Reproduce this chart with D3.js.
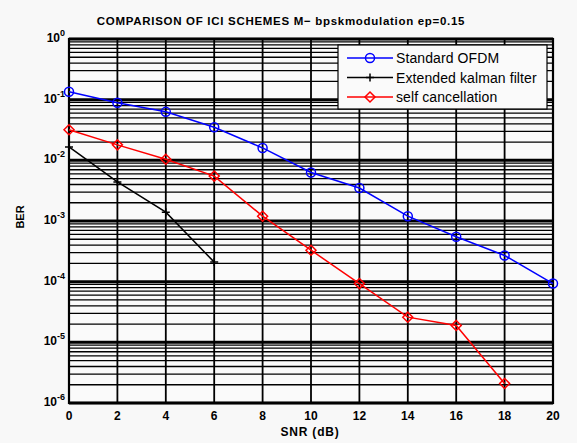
<!DOCTYPE html>
<html>
<head>
<meta charset="utf-8">
<script src="https://cdn.jsdelivr.net/npm/d3@7"></script>
<style>
  body { margin: 0; background: #f8f8f8; }
  text { font-family: "Liberation Sans", Arial, sans-serif; }
</style>
</head>
<body>
<div id="chart"></div>
<script>
// data
var snr = [0, 2, 4, 6, 8, 10, 12, 14, 16, 18, 20];
var standardOfdm = [0.135, 0.089, 0.063, 0.035, 0.016, 0.0063, 0.0035, 0.0012, 5.5e-4, 2.7e-4, 9.3e-5];
var kalmanSnr = [0, 2, 4, 6];
var kalman = [0.0166, 0.0044, 0.0014, 2.1e-4];
var selfSnr = [0, 2, 4, 6, 8, 10, 12, 14, 16, 18];
var selfCancel = [0.032, 0.018, 0.0104, 0.0055, 0.0012, 3.3e-4, 9.3e-5, 2.6e-5, 1.9e-5, 2.1e-6];
var xTicks = [0, 2, 4, 6, 8, 10, 12, 14, 16, 18, 20];
var yExps = [0, -1, -2, -3, -4, -5, -6];
var legendNames = ["Standard OFDM", "Extended kalman filter", "self cancellation"];

var width = 577, height = 443;
var margin = {top: 39, right: 24, bottom: 40, left: 69};

var svg = d3.select("#chart").append("svg")
  .attr("width", width)
  .attr("height", height);

svg.append("rect").attr("width", width).attr("height", height).attr("fill", "#f8f8f8");

var x = d3.scaleLinear().domain([0, 20]).range([margin.left, width - margin.right]);
var y = d3.scaleLog().domain([1e-6, 1]).range([height - margin.bottom, margin.top]);

// plot background
svg.append("rect")
  .attr("x", x(0)).attr("y", y(1))
  .attr("width", x(20) - x(0)).attr("height", y(1e-6) - y(1))
  .attr("fill", "#fafafa");

var grid = svg.append("g");
// minor log grid lines
for (var e = -6; e < 0; e++) {
  for (var m = 2; m <= 9; m++) {
    grid.append("line")
      .attr("x1", x(0)).attr("x2", x(20))
      .attr("y1", y(m * Math.pow(10, e))).attr("y2", y(m * Math.pow(10, e)))
      .attr("stroke", "#000").attr("stroke-width", 1.3);
  }
}
// decade lines
yExps.forEach(function(e) {
  grid.append("line")
    .attr("x1", x(0)).attr("x2", x(20))
    .attr("y1", y(Math.pow(10, e))).attr("y2", y(Math.pow(10, e)))
    .attr("stroke", "#000").attr("stroke-width", 3);
});
// vertical grid
xTicks.forEach(function(t) {
  grid.append("line")
    .attr("x1", x(t)).attr("x2", x(t))
    .attr("y1", y(1)).attr("y2", y(1e-6))
    .attr("stroke", "#000").attr("stroke-width", 1.8);
});

// frame
svg.append("rect")
  .attr("x", x(0)).attr("y", y(1))
  .attr("width", x(20) - x(0)).attr("height", y(1e-6) - y(1))
  .attr("fill", "none").attr("stroke", "#000").attr("stroke-width", 2.2);

var line = d3.line().x(function(d) { return x(d[0]); }).y(function(d) { return y(d[1]); });

function drawSeries(xs, ys, color, marker) {
  var pts = xs.map(function(v, i) { return [v, ys[i]]; });
  svg.append("path").datum(pts)
    .attr("d", line).attr("fill", "none")
    .attr("stroke", color).attr("stroke-width", 1.5);
  var g = svg.append("g");
  pts.forEach(function(p) {
    drawMarker(g, x(p[0]), y(p[1]), color, marker);
  });
}

function drawMarker(g, cx, cy, color, marker) {
  if (marker == "circle") {
    g.append("circle").attr("cx", cx).attr("cy", cy).attr("r", 4.5)
      .attr("fill", "none").attr("stroke", color).attr("stroke-width", 1.5);
  } else if (marker == "diamond") {
    g.append("path")
      .attr("d", "M" + cx + "," + (cy - 5) + "L" + (cx + 5) + "," + cy + "L" + cx + "," + (cy + 5) + "L" + (cx - 5) + "," + cy + "Z")
      .attr("fill", "none").attr("stroke", color).attr("stroke-width", 1.5);
  } else {
    g.append("path")
      .attr("d", "M" + (cx - 4) + "," + cy + "L" + (cx + 4) + "," + cy + "M" + cx + "," + (cy - 4) + "L" + cx + "," + (cy + 4))
      .attr("fill", "none").attr("stroke", color).attr("stroke-width", 1.5);
  }
}

drawSeries(snr, standardOfdm, "#0000ff", "circle");
drawSeries(kalmanSnr, kalman, "#000000", "plus");
drawSeries(selfSnr, selfCancel, "#ff0000", "diamond");

// x tick labels
svg.append("g").selectAll("text").data(xTicks).enter().append("text")
  .attr("x", function(d) { return x(d); })
  .attr("y", y(1e-6) + 17)
  .attr("text-anchor", "middle")
  .attr("font-size", 12).attr("font-weight", "bold")
  .text(function(d) { return d; });

// y tick labels 10^e
var yl = svg.append("g").selectAll("text").data(yExps).enter().append("text")
  .attr("x", x(0) - 4)
  .attr("y", function(d) { return y(Math.pow(10, d)) + 3; })
  .attr("text-anchor", "end")
  .attr("font-size", 12).attr("font-weight", "bold");
yl.append("tspan").text("10");
yl.append("tspan").attr("dy", -6).attr("font-size", 9)
  .text(function(d) { return d == 0 ? "0" : d; });

// axis titles
svg.append("text")
  .attr("x", 310).attr("y", 436)
  .attr("text-anchor", "middle").attr("font-size", 12).attr("font-weight", "bold")
  .attr("letter-spacing", 0.8)
  .text("SNR (dB)");
svg.append("text")
  .attr("transform", "translate(24,217) rotate(-90)")
  .attr("text-anchor", "middle").attr("font-size", 11).attr("font-weight", "bold")
  .text("BER");

// title
svg.append("text")
  .attr("x", 281).attr("y", 25)
  .attr("text-anchor", "middle").attr("font-size", 11.5).attr("font-weight", "bold")
  .attr("letter-spacing", 0.7)
  .text("COMPARISON OF ICI SCHEMES M\u2212 bpskmodulation ep=0.15");

// legend
var legend = svg.append("g");
legend.append("rect")
  .attr("x", 338).attr("y", 45).attr("width", 209).attr("height", 64)
  .attr("fill", "#fafafa").attr("stroke", "#000").attr("stroke-width", 1.2);
var legendColors = ["#0000ff", "#000000", "#ff0000"];
var legendMarkers = ["circle", "plus", "diamond"];
legendNames.forEach(function(name, i) {
  var ly = 58 + i * 19.5;
  legend.append("line").attr("x1", 347).attr("x2", 393).attr("y1", ly).attr("y2", ly)
    .attr("stroke", legendColors[i]).attr("stroke-width", 1.5);
  drawMarker(legend, 370, ly, legendColors[i], legendMarkers[i]);
  legend.append("text").attr("x", 396).attr("y", ly + 5)
    .attr("font-size", 14).attr("letter-spacing", 0.1).text(name);
});
</script>
</body>
</html>
